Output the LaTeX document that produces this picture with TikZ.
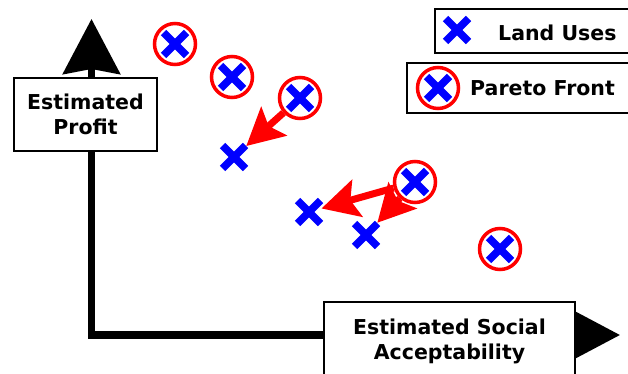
\documentclass[tikz,border=0pt]{standalone}
\usepackage{fontspec}
\setmainfont{DejaVu Sans}
\usetikzlibrary{arrows.meta}
\tikzset{
  crossline/.style={draw=blue,line width=7.5pt},
  landuse/.style={rectangle,minimum size=23pt,inner sep=0pt,outer sep=0pt,
    append after command={[crossline] (\tikzlastnode.north west) edge[crossline] (\tikzlastnode.south east)
      (\tikzlastnode.north east) edge[crossline] (\tikzlastnode.south west)}},
  pareto/.style={circle,draw=red,line width=3.5pt,minimum size=41pt,inner sep=0pt},
  axisline/.style={line width=7pt,draw=black},
  labelbox/.style={draw=black,line width=2pt,fill=white,align=center,font=\fontsize{20.5}{25.5}\selectfont\bfseries},
  legendbox/.style={draw=black,line width=2pt,fill=white},
  legendtext/.style={font=\fontsize{20.5}{25.5}\selectfont\bfseries,anchor=west,inner sep=0pt},
  movearrow/.style={draw=red,line width=7pt,-{Stealth[length=37pt,width=38pt,inset=7pt]},shorten >=1pt},
}
\begin{document}
\begin{tikzpicture}[x=1pt,y=-1pt]
\useasboundingbox (0,0) rectangle (628,374);
% axes
\coordinate (ybot) at (91.5,338);
\coordinate (ytip) at (91.5,19);
\coordinate (xleft) at (88,335);
\coordinate (xtip) at (620,335);
\draw[axisline,-{Stealth[length=55pt,width=57pt,inset=5pt]}] (ybot) -- (ytip);
\draw[axisline,line width=8pt,-{Stealth[length=55pt,width=57pt,inset=5pt]}] (xleft) -- (xtip);
% axis label boxes
\node[labelbox,minimum width=143pt,minimum height=73pt] (ylab) at (85.5,114.5) {Estimated\\Profit};
\path[draw=black,line width=2pt,fill=white] (324,302) rectangle (575,420);
\node[font=\fontsize{20.5}{25.5}\selectfont\bfseries,align=center] (xlab) at (449.5,341.5) {Estimated Social\\Acceptability};
% legend
\node[legendbox,minimum width=280pt,minimum height=44pt,anchor=north west] (leg1) at (434,8) {};
\node[legendbox,minimum width=300pt,minimum height=50pt,anchor=north west] (leg2) at (406,62) {};
\node[landuse] (legx) at (457,30) {};
\node[legendtext] (legt1) at (498,33) {Land Uses};
\node[pareto] (legc) at (438,88) {};
\node[landuse] (legcx) at (438,88) {};
\node[legendtext] (legt2) at (470,88) {Pareto Front};
% pareto points
\node[pareto] (p1) at (175,44) {};
\node[pareto] (p2) at (232,77) {};
\node[pareto] (p3) at (300,98) {};
\node[pareto] (p4) at (415,182) {};
\node[pareto] (p5) at (500,249) {};
\node[landuse] (c1) at (p1) {};
\node[landuse] (c2) at (p2) {};
\node[landuse] (c3) at (p3) {};
\node[landuse] (c4) at (p4) {};
\node[landuse] (c5) at (p5) {};
% land uses
\node[landuse] (l1) at (234,157) {};
\node[landuse] (l2) at (309,212) {};
\node[landuse] (l3) at (366,235) {};
% arrows
\draw[movearrow] (p3) -- (l1);
\draw[movearrow] (p4) -- (l2);
\draw[movearrow] (p4) -- (l3);
\end{tikzpicture}
\end{document}
